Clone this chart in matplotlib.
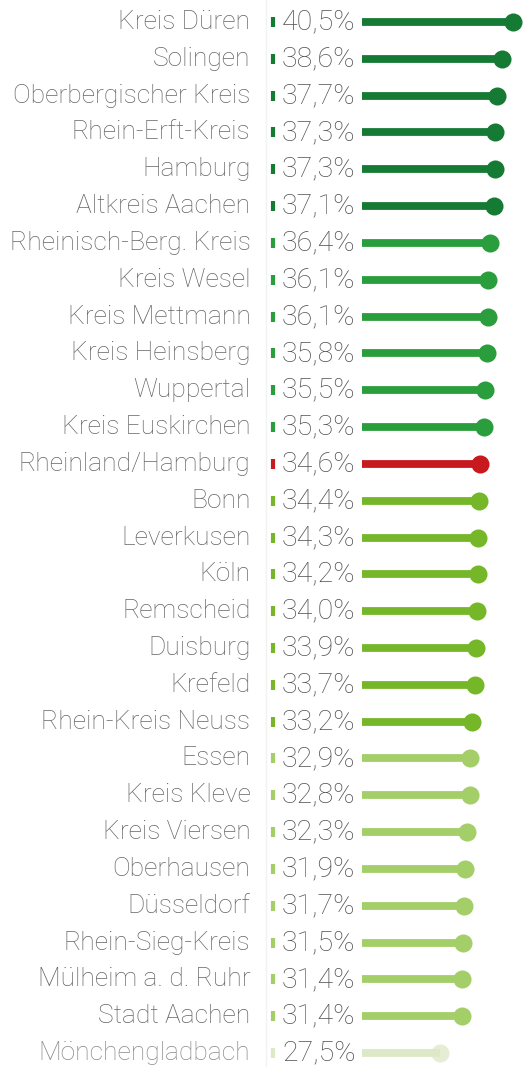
import matplotlib.pyplot as plt
import matplotlib.transforms as mtransforms

regions = ["Kreis Düren", "Solingen", "Oberbergischer Kreis", "Rhein-Erft-Kreis",
           "Hamburg", "Altkreis Aachen", "Rheinisch-Berg. Kreis", "Kreis Wesel",
           "Kreis Mettmann", "Kreis Heinsberg", "Wuppertal", "Kreis Euskirchen",
           "Rheinland/Hamburg", "Bonn", "Leverkusen", "Köln", "Remscheid",
           "Duisburg", "Krefeld", "Rhein-Kreis Neuss", "Essen", "Kreis Kleve",
           "Kreis Viersen", "Oberhausen", "Düsseldorf", "Rhein-Sieg-Kreis",
           "Mülheim a. d. Ruhr", "Stadt Aachen", "Mönchengladbach"]
share = [40.5, 38.6, 37.7, 37.3, 37.3, 37.1, 36.4, 36.1, 36.1, 35.8, 35.5, 35.3,
         34.6, 34.4, 34.3, 34.2, 34.0, 33.9, 33.7, 33.2, 32.9, 32.8, 32.3, 31.9,
         31.7, 31.5, 31.4, 31.4, 27.5]
average_name = "Rheinland/Hamburg"

# colour tiers from top to bottom
tier_colors = ["#147a34", "#2a9d3c", "#76b72a", "#a3ce68", "#dde8c6"]
tier_sizes = [6, 6, 7, 8, 1]
colors = []
for c, n in zip(tier_colors, tier_sizes):
    colors += [c] * n
colors.insert(regions.index(average_name), "#c8191e")

line_start = 13.5

fig = plt.figure(figsize=(5.26, 10.67), dpi=100)
ax = fig.add_axes([0, 0, 1, 1])
ax.set_xlim(-51.1, 42.83)
ax.set_ylim(28.38, -0.598)
ax.axis("off")

trans = mtransforms.blended_transform_factory(ax.transAxes, ax.transData)
ax.plot([0.506, 0.506], [-0.6, 28.4], transform=trans, color="#f2f2f2", lw=1, zorder=0)

font = dict(family="Roboto", weight="light")
for i, (name, v, c) in enumerate(zip(regions, share, colors)):
    last = i == len(regions) - 1
    ax.plot([line_start, v], [i, i], color=c, lw=5.6, solid_capstyle="butt", zorder=2)
    ax.plot(v, i, "o", color=c, ms=13, mew=0, alpha=0.75 if last else 1, zorder=3)
    ax.plot(0.519, i, marker="|", ms=7, mew=3, color=c, transform=trans)
    ax.text(0.476, i, name, transform=trans, ha="right", va="center",
            fontsize=19, color="#8a8a8a" if last else "#666666", **font)
    ax.text(0.536, i, f"{v:.1f}%".replace(".", ","), transform=trans, ha="left",
            va="center", fontsize=20.5, color="#505050", **font)

fig.savefig("out.png", dpi=100)
